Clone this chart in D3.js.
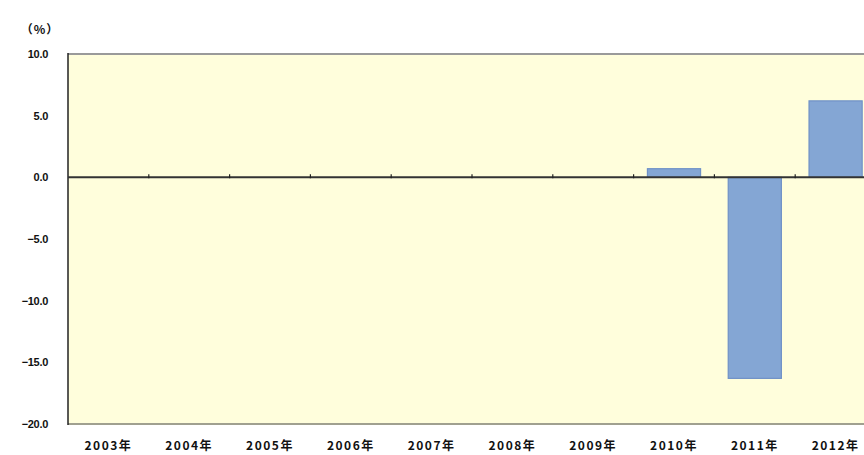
<!DOCTYPE html>
<html><head><meta charset="utf-8">
<script src="https://cdn.jsdelivr.net/npm/d3@7"></script>
<style>
html,body{margin:0;padding:0;background:#fff;overflow:hidden;}
svg{display:block;}
text{font-family:"Noto Sans CJK JP","Noto Sans",sans-serif;fill:#111;}
</style></head>
<body>
<svg id="chart" width="864" height="455"></svg>
<script>
const categories = ["2003年","2004年","2005年","2006年","2007年","2008年","2009年","2010年","2011年","2012年"];
const values = [null,null,null,null,null,null,null,0.7,-16.3,6.2];
const yTicks = [10,5,0,-5,-10,-15,-20];
const yUnit = "（%）";

const svg = d3.select("#chart");
const pL = 68, pR = 876, pT = 54, pB = 424;

const x = d3.scaleBand().domain(categories).range([pL, pR]).paddingInner(0.33).paddingOuter(0.165);
const xb = d3.scaleBand().domain(categories).range([pL, pR]);
const y = d3.scaleLinear().domain([-20, 10]).range([pB, pT]);

svg.append("rect").attr("x", pL).attr("y", pT).attr("width", pR - pL).attr("height", pB - pT)
  .attr("fill", "#FFFEDC");

// bars
svg.append("g").selectAll("rect").data(categories.map((c,i)=>({c, v: values[i]})).filter(d=>d.v!==null))
  .join("rect")
  .attr("x", d => x(d.c) + 0.5)
  .attr("width", x.bandwidth() - 1)
  .attr("y", d => y(Math.max(0, d.v)))
  .attr("height", d => Math.abs(y(d.v) - y(0)))
  .attr("fill", "#84A6D4")
  .attr("stroke", "#6F91C7")
  .attr("stroke-width", 1.2);

// borders
svg.append("line").attr("x1", pL).attr("x2", pR).attr("y1", pT).attr("y2", pT).attr("stroke", "#9a9a9a").attr("stroke-width", 2);
svg.append("line").attr("x1", pL).attr("x2", pR).attr("y1", pB).attr("y2", pB).attr("stroke", "#a0a090").attr("stroke-width", 2);
svg.append("line").attr("x1", pL).attr("x2", pL).attr("y1", pT - 1).attr("y2", pB + 1).attr("stroke", "#222").attr("stroke-width", 1.5);

// zero axis with category-boundary ticks
svg.append("line").attr("x1", pL).attr("x2", pR).attr("y1", y(0)).attr("y2", y(0)).attr("stroke", "#333").attr("stroke-width", 2);
svg.append("g").selectAll("line").data(categories.slice(1)).join("line")
  .attr("x1", d => xb(d)).attr("x2", d => xb(d))
  .attr("y1", y(0) - 3).attr("y2", y(0) + 1)
  .attr("stroke", "#222").attr("stroke-width", 1.2);

// y axis labels
const yAxis = d3.axisLeft(y).tickValues(yTicks).tickFormat(d3.format(".1f")).tickSize(0).tickPadding(20);
const ga = svg.append("g").attr("transform", `translate(${pL},0)`).call(yAxis);
ga.select(".domain").remove();
ga.selectAll("text").attr("font-size", 11).attr("font-weight", "bold").attr("letter-spacing", "-0.3px")
  .style("font-family", '"Liberation Sans", Arial, sans-serif').attr("fill", "#111");

svg.append("text").attr("x", 40).attr("y", 34).attr("text-anchor", "middle").attr("font-size", 12)
  .attr("letter-spacing", "1px").attr("font-weight", "bold").text(yUnit);

// x labels
const xAxis = d3.axisBottom(xb).tickSize(0).tickPadding(0);
const gx = svg.append("g").attr("transform", `translate(0,${pB + 22})`).call(xAxis);
gx.select(".domain").remove();
gx.selectAll("text").attr("font-size", 12).attr("font-weight", "bold").attr("letter-spacing", "1.5px")
  .attr("dy", "0.35em").attr("fill", "#111");
</script>
</body></html>
